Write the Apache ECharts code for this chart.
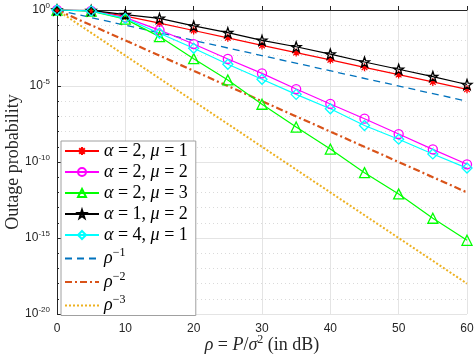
<!DOCTYPE html>
<html>
<head>
<meta charset="utf-8">
<script src="https://cdn.jsdelivr.net/npm/echarts@6/dist/echarts.min.js"></script>
<style>
  html, body { margin: 0; padding: 0; background: #fff; }
  #chart { width: 474px; height: 355px; }
</style>
</head>
<body>
<div id="chart"></div>
<script>
// SNR in dB
var snr = [0, 5, 10, 15, 20, 25, 30, 35, 40, 45, 50, 55, 60];
// outage probability, stored as log10 exponents
var a2m1 = [0, -0.05, -0.4, -0.86, -1.35, -1.83, -2.33, -2.8, -3.28, -3.77, -4.25, -4.73, -5.22];
var a2m2 = [0, -0.06, -0.5, -1.32, -2.24, -3.22, -4.17, -5.2, -6.18, -7.15, -8.16, -9.17, -10.15];
var a2m3 = [0, -0.07, -0.6, -1.75, -3.2, -4.6, -6.2, -7.7, -9.15, -10.7, -12.1, -13.7, -15.15];
var a1m2 = [0, -0.03, -0.3, -0.55, -1.05, -1.49, -2.0, -2.42, -2.9, -3.42, -3.9, -4.38, -4.9];
var a4m1 = [0, -0.06, -0.55, -1.53, -2.52, -3.57, -4.56, -5.55, -6.5, -7.6, -8.5, -9.47, -10.4];
// reference slopes, end points
var refX = [0, 60];
var rho1 = [0, -6];
var rho2 = [0, -12];
var rho3 = [0, -18];

var serif = '"Liberation Serif", "DejaVu Serif", serif';
var sans = '"Liberation Sans", Arial, sans-serif';
var asterisk = 'path://M0,-10L0,10M-10,0L10,0M-7,-7L7,7M-7,7L7,-7';
var star = 'path://M0,-10L2.35,-3.24L9.51,-3.09L3.8,1.24L5.88,8.09L0,4L-5.88,8.09L-3.8,1.24L-9.51,-3.09L-2.35,-3.24Z';

function pts(xs, ys) {
    return xs.map(function (x, i) { return [x, ys[i]]; });
}

function markSeries(name, data, color, symbol, size) {
    return {
        name: name,
        type: 'line',
        data: pts(snr, data),
        symbol: symbol,
        symbolSize: size,
        showAllSymbol: true,
        lineStyle: { color: color, width: 1.2 },
        itemStyle: { color: 'none', borderColor: color, borderWidth: 1.3 },
        emphasis: { disabled: true },
        z: 3
    };
}

function refSeries(name, data, color, type, width) {
    return {
        name: name,
        type: 'line',
        data: pts(refX, data),
        symbol: 'none',
        lineStyle: { color: color, width: width, type: type },
        itemStyle: { color: color },
        emphasis: { disabled: true },
        z: 2
    };
}

var legendText = {
    'a2m1': '{i|α} = 2, {i|μ} = 1',
    'a2m2': '{i|α} = 2, {i|μ} = 2',
    'a2m3': '{i|α} = 2, {i|μ} = 3',
    'a1m2': '{i|α} = 1, {i|μ} = 2',
    'a4m1': '{i|α} = 4, {i|μ} = 1',
    'r1': '{i|ρ}{s|−1}',
    'r2': '{i|ρ}{s|−2}',
    'r3': '{i|ρ}{s|−3}'
};

var myChart = echarts.init(document.getElementById('chart'));
myChart.setOption({
    animation: false,
    grid: { left: 57, right: 7, top: 10, bottom: 41, containLabel: false, outerBoundsMode: 'none' },
    xAxis: {
        type: 'value',
        min: 0, max: 60, interval: 10,
        name: '{i|ρ} = {i|P}/{i|σ}{s|2} (in dB)',
        nameLocation: 'middle',
        nameGap: 20,
        nameMoveOverlap: false,
        nameTextStyle: {
            fontFamily: serif, fontSize: 18, color: '#262626',
            rich: {
                i: { fontFamily: serif, fontStyle: 'italic', fontSize: 18, color: '#262626' },
                s: { fontFamily: serif, fontSize: 12, color: '#262626', padding: [0, 0, 10, 0] }
            }
        },
        axisLine: { lineStyle: { color: '#262626', width: 1 } },
        axisTick: { inside: true, length: 4, lineStyle: { color: '#262626' } },
        axisLabel: { fontFamily: sans, fontSize: 12, color: '#262626', margin: 9 },
        splitLine: { show: true, lineStyle: { color: '#e4e4e4', width: 1 } }
    },
    yAxis: {
        type: 'value',
        min: -20, max: 0, interval: 5,
        name: 'Outage probability',
        nameLocation: 'middle',
        nameGap: 35,
        nameMoveOverlap: false,
        nameTextStyle: { fontFamily: serif, fontSize: 18, color: '#262626' },
        axisLine: { show: true, lineStyle: { color: '#262626', width: 1 } },
        axisTick: { inside: true, length: 4, lineStyle: { color: '#262626' } },
        minorTick: { show: true, splitNumber: 5, length: 2, lineStyle: { color: '#262626' } },
        axisLabel: {
            fontFamily: sans, fontSize: 12, color: '#262626', margin: 7,
            formatter: function (v) { return '10{s|' + v + '}'; },
            rich: {
                s: { fontFamily: sans, fontSize: 8, color: '#262626', padding: [0, 0, 8, 0] }
            }
        },
        splitLine: { show: true, lineStyle: { color: '#e4e4e4', width: 1 } },
        minorSplitLine: { show: true, lineStyle: { color: '#dadada', width: 1, type: [1, 3] } }
    },
    legend: {
        orient: 'vertical',
        left: 61, top: 141,
        itemWidth: 34,
        itemHeight: 10,
        itemGap: 3,
        padding: [1, 8, 1, 3],
        backgroundColor: '#fff',
        borderColor: '#a0a0a0',
        borderWidth: 1,
        borderRadius: 0,
        data: [
            'a2m1', 'a2m2', 'a2m3', 'a1m2', 'a4m1',
            { name: 'r1', itemStyle: { opacity: 0 } },
            { name: 'r2', itemStyle: { opacity: 0 } },
            { name: 'r3', itemStyle: { opacity: 0 } }
        ],
        formatter: function (name) { return legendText[name]; },
        textStyle: {
            fontFamily: serif, fontSize: 18, color: '#000',
            rich: {
                i: { fontFamily: serif, fontStyle: 'italic', fontSize: 18, color: '#000' },
                s: { fontFamily: serif, fontSize: 12, color: '#000', padding: [0, 0, 11, 0] }
            }
        }
    },
    series: [
        markSeries('a2m1', a2m1, '#ff0000', asterisk, 8),
        markSeries('a2m2', a2m2, '#ff00ff', 'circle', 9),
        markSeries('a2m3', a2m3, '#00ff00', 'triangle', 10),
        markSeries('a1m2', a1m2, '#000000', star, 10),
        markSeries('a4m1', a4m1, '#00ffff', 'diamond', 10),
        refSeries('r1', rho1, '#0072bd', [7, 5], 1.3),
        refSeries('r2', rho2, '#d95319', [7, 3, 2, 3], 2.2),
        refSeries('r3', rho3, '#edb120', [2, 2], 2)
    ]
});
</script>
</body>
</html>
